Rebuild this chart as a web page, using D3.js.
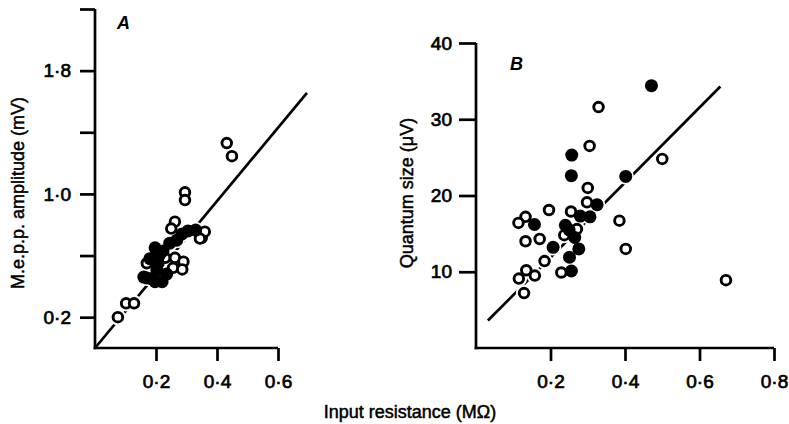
<!DOCTYPE html>
<html><head><meta charset="utf-8">
<script src="https://cdn.jsdelivr.net/npm/d3@7"></script>
<style>
body{margin:0;background:#fff;}
svg{display:block;}
text{font-family:"Liberation Sans",Arial,sans-serif;fill:#000;}
</style></head>
<body>
<svg id="c" width="789" height="424"></svg>
<script>
// ---- Panel A data: input resistance (MΩ) vs m.e.p.p. amplitude (mV)
const aOpenResist = [0.075,0.102,0.128,0.432,0.449,0.295,0.295,0.262,0.250,0.350,0.360,0.170,0.230,0.262,0.290,0.256,0.286,0.344];
const aOpenAmp    = [0.20, 0.29, 0.29, 1.33, 1.245,1.01, 0.96, 0.82, 0.775,0.715,0.755,0.55, 0.585,0.585,0.56, 0.52, 0.51, 0.71];
const aFilledResist = [0.197,0.223,0.245,0.268,0.285,0.305,0.330,0.180,0.207,0.170,0.197,0.220,0.203,0.235,0.210,0.185,0.160];
const aFilledAmp    = [0.65, 0.63, 0.68, 0.70, 0.74, 0.76, 0.765,0.58, 0.55, 0.455,0.43, 0.43, 0.505,0.48, 0.60, 0.45, 0.46];
const aFitResist = [0, 0.695];
const aFitAmp    = [0, 1.656];
const aXTicks = [0.2,0.4,0.6];
const aYTicks = [0.2,0.6,1.0,1.4,1.8,2.2];
const aYLabelled = [0.2,1.0,1.8];

// ---- Panel B data: input resistance (MΩ) vs quantum size (µV)
const bOpenResist = [0.329,0.305,0.500,0.300,0.298,0.196,0.255,0.133,0.114,0.385,0.271,0.133,0.171,0.237,0.402,0.184,0.135,0.115,0.158,0.229,0.129,0.671];
const bOpenQuant  = [31.6, 26.5, 24.8, 21.0, 19.1, 18.1, 17.9, 17.2, 16.4, 16.7, 15.6, 14.0, 14.3, 14.8, 13.0, 11.4, 10.2, 9.1,  9.5,  9.9,  7.2,  8.9];
const bFilledResist = [0.471,0.257,0.256,0.402,0.325,0.306,0.280,0.157,0.240,0.250,0.207,0.276,0.251,0.256,0.265];
const bFilledQuant  = [34.4, 25.3, 22.6, 22.5, 18.8, 17.2, 17.3, 16.2, 16.1, 15.5, 13.2, 13.0, 11.9, 10.1, 14.5];
const bFitResist = [0.032, 0.656];
const bFitQuant  = [3.6, 34.3];
const bXTicks = [0.2,0.4,0.6,0.8];
const bYTicks = [10,20,30,40];

const fmt = d => d3.format(".1f")(d).replace(".", "\u00B7");

const svg = d3.select("#c");
const SW = 2.7;

function styleAxis(g){
  g.selectAll("path.domain").attr("stroke","#000").attr("stroke-width",SW);
  g.selectAll(".tick line").attr("stroke","#000").attr("stroke-width",SW);
  g.selectAll(".tick text").style("font-size","19px").attr("fill","#000")
    .attr("stroke","#000").attr("stroke-width",0.7);
}

function panel(o){
  const x = d3.scaleLinear().domain(o.xDomain).range(o.xRange);
  const y = d3.scaleLinear().domain(o.yDomain).range(o.yRange);
  const g = svg.append("g");

  const fit = o.fitX.map((v,i)=>[v,o.fitY[i]]);
  g.append("path").datum(fit)
    .attr("d", d3.line().x(d=>x(d[0])).y(d=>y(d[1])))
    .attr("stroke","#000").attr("stroke-width",SW).attr("fill","none");

  const open = o.openX.map((v,i)=>[v,o.openY[i]]);
  const filled = o.fillX.map((v,i)=>[v,o.fillY[i]]);
  const all = open.concat(filled);
  g.selectAll("circle.halo").data(all).join("circle").attr("class","halo")
    .attr("cx",d=>x(d[0])).attr("cy",d=>y(d[1])).attr("r",8.2).attr("fill","#fff");
  g.selectAll("circle.open").data(open).join("circle").attr("class","open")
    .attr("cx",d=>x(d[0])).attr("cy",d=>y(d[1])).attr("r",4.8)
    .attr("fill","#fff").attr("stroke","#000").attr("stroke-width",2.9);
  g.selectAll("circle.fill").data(filled).join("circle").attr("class","fill")
    .attr("cx",d=>x(d[0])).attr("cy",d=>y(d[1])).attr("r",6.5)
    .attr("fill","#000");

  const x0 = x(o.xDomain[0]), y0 = y(o.yDomain[0]);
  const xa = g.append("g").attr("transform",`translate(0,${y0})`)
    .call(d3.axisBottom(x).tickValues(o.xTicks).tickSize(o.xTickLen).tickSizeOuter(0)
      .tickPadding(o.xPad).tickFormat(fmt));
  styleAxis(xa);
  const ya = g.append("g").attr("transform",`translate(${x0},0)`)
    .call(d3.axisLeft(y).tickValues(o.yTicks).tickSize(o.yTickLen).tickSizeOuter(0)
      .tickPadding(o.yPad).tickFormat(o.yFmt));
  styleAxis(ya);
  ya.select("path.domain").attr("d",`M0,${y0+1.35}V${y(o.yTop)}`);
  xa.select("path.domain").attr("d",`M${x0-1.35},0H${x(o.xDomain[1])}`);

  g.append("text").attr("x",o.letterX).attr("y",o.letterY)
    .style("font-size","18px").style("font-style","italic").style("font-weight","bold")
    .text(o.letter);
  g.append("text").attr("transform",`translate(${o.yTitleX},${o.yTitleY}) rotate(-90)`)
    .attr("text-anchor","middle").style("font-size","18px")
    .attr("stroke","#000").attr("stroke-width",0.5)
    .text(o.yTitle);
}

panel({
  xDomain:[0,0.6], xRange:[95,278], yDomain:[0,2.2], yRange:[348,9], yTop:2.2,
  openX:aOpenResist, openY:aOpenAmp, fillX:aFilledResist, fillY:aFilledAmp,
  fitX:aFitResist, fitY:aFitAmp,
  xTicks:aXTicks, yTicks:aYTicks, xTickLen:13, yTickLen:15, xPad:14, yPad:9,
  yFmt: d => aYLabelled.some(v=>Math.abs(v-d)<1e-9) ? fmt(d) : "",
  letter:"A", letterX:117, letterY:29,
  yTitleX:24, yTitleY:193, yTitle:"M.e.p.p. amplitude (mV)"
});

panel({
  xDomain:[0,0.8], xRange:[476,774], yDomain:[0,40], yRange:[348,43], yTop:40,
  openX:bOpenResist, openY:bOpenQuant, fillX:bFilledResist, fillY:bFilledQuant,
  fitX:bFitResist, fitY:bFitQuant,
  xTicks:bXTicks, yTicks:bYTicks, xTickLen:13, yTickLen:17, xPad:14, yPad:7,
  yFmt: d => d,
  letter:"B", letterX:510, letterY:70,
  yTitleX:413, yTitleY:193, yTitle:"Quantum size (\u03BCV)"
});

svg.append("text").attr("x",410).attr("y",418).attr("text-anchor","middle")
  .style("font-size","18px").attr("stroke","#000").attr("stroke-width",0.5)
  .text("Input resistance (M\u03A9)");
</script>
</body></html>
